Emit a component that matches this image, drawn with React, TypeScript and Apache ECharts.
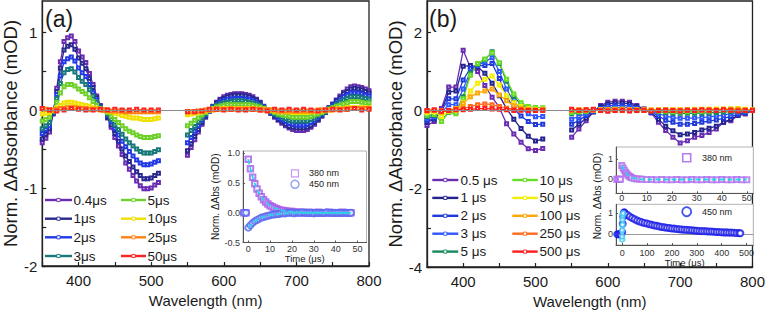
import React, { useEffect, useRef } from "react";
import * as echarts from "echarts";

const FONT = '"Liberation Sans", Arial, Helvetica, sans-serif';
const INK = "#1a1a1a";

// ---- wavelength grids (nm) ----
const WL_5_LO = [350,355,360,365,370,375,380,385,390,395,400,405,410,415,420,425,430,435,440,445,450,455,460,465,470,475,480,485,490,495,500,505,510];
const WL_5_HI = [550,555,560,565,570,575,580,585,590,595,600,605,610,615,620,625,630,635,640,645,650,655,660,665,670,675,680,685,690,695,700,705,710,715,720,725,730,735,740,745,750,755,760,765,770,775,780,785,790,795,800];
const WL_10_LO = [350,360,370,380,390,400,410,420,430,440,450,460,470,480,490,500,510];
const WL_10_HI = [550,560,570,580,590,600,610,620,630,640,650,660,670,680,690,700,710,720,730,740,750,760,770,780,790,800];

// ---- panel (a) spectra ----
const A_LABELS = ["0.4\u03bcs", "1\u03bcs", "2\u03bcs", "3\u03bcs", "5\u03bcs", "10\u03bcs", "25\u03bcs", "50\u03bcs"];
const A_COLORS = ["#6a2db2", "#28288e", "#2338e6", "#17797a", "#6fd02a", "#f0e000", "#ff8012", "#ff2222"];

const A04_LO = [-0.42,-0.36,-0.28,-0.05,0.28,0.62,0.88,0.93,0.95,0.88,0.76,0.68,0.61,0.47,0.33,0.18,0.06,0.00,-0.10,-0.22,-0.35,-0.46,-0.57,-0.68,-0.76,-0.84,-0.91,-0.97,-1.01,-1.01,-1.00,-0.96,-0.93];
const A1_LO = [-0.37,-0.31,-0.24,-0.04,0.24,0.54,0.77,0.82,0.84,0.78,0.67,0.60,0.53,0.41,0.29,0.16,0.05,0.00,-0.09,-0.19,-0.30,-0.40,-0.50,-0.59,-0.66,-0.73,-0.79,-0.84,-0.88,-0.88,-0.87,-0.84,-0.81];
const A2_LO = [-0.30,-0.25,-0.20,-0.03,0.20,0.44,0.62,0.66,0.68,0.63,0.54,0.48,0.43,0.33,0.23,0.13,0.04,0.00,-0.07,-0.15,-0.24,-0.32,-0.40,-0.47,-0.53,-0.59,-0.64,-0.68,-0.70,-0.70,-0.69,-0.67,-0.65];
const A3_LO = [-0.24,-0.20,-0.16,-0.02,0.15,0.34,0.48,0.52,0.53,0.49,0.42,0.37,0.33,0.26,0.18,0.10,0.03,0.00,-0.05,-0.12,-0.19,-0.25,-0.31,-0.37,-0.42,-0.46,-0.50,-0.53,-0.55,-0.55,-0.55,-0.53,-0.51];
const A5_LO = [-0.14,-0.12,-0.09,-0.01,0.10,0.22,0.30,0.33,0.33,0.31,0.27,0.24,0.21,0.16,0.11,0.06,0.02,0.00,-0.03,-0.08,-0.12,-0.16,-0.20,-0.24,-0.27,-0.29,-0.32,-0.34,-0.35,-0.35,-0.35,-0.34,-0.33];
const A10_LO = [-0.05,-0.04,-0.03,0.00,0.03,0.06,0.09,0.10,0.10,0.09,0.08,0.07,0.06,0.05,0.03,0.02,0.01,0.00,-0.01,-0.02,-0.04,-0.05,-0.07,-0.08,-0.09,-0.10,-0.10,-0.11,-0.12,-0.12,-0.12,-0.11,-0.10];
const A25_LO = [0.02,0.01,0.00,0.00,0.01,0.02,0.02,0.03,0.03,0.03,0.02,0.02,0.02,0.01,0.01,0.01,0.00,0.00,0.00,-0.01,-0.01,-0.01,-0.01,-0.02,-0.02,-0.02,-0.02,-0.02,-0.02,-0.02,-0.02,-0.02,-0.02];
const A50_LO = [0.02,0.00,-0.01,0.00,0.02,0.01,0.00,0.00,0.01,0.00,0.01,0.00,0.00,0.01,0.00,0.00,0.00];

const A04_HI = [-0.58,-0.48,-0.38,-0.28,-0.18,-0.09,-0.01,0.05,0.10,0.14,0.17,0.19,0.20,0.21,0.21,0.21,0.20,0.19,0.17,0.14,0.10,0.05,0.00,-0.04,-0.09,-0.13,-0.17,-0.20,-0.23,-0.25,-0.26,-0.26,-0.26,-0.25,-0.22,-0.18,-0.13,-0.08,-0.03,0.03,0.08,0.13,0.18,0.23,0.27,0.30,0.31,0.30,0.29,0.27,0.25];
const A1_HI = [-0.52,-0.43,-0.34,-0.25,-0.16,-0.08,-0.01,0.04,0.09,0.13,0.15,0.17,0.18,0.19,0.19,0.19,0.18,0.17,0.15,0.13,0.09,0.04,0.00,-0.04,-0.08,-0.12,-0.15,-0.18,-0.21,-0.22,-0.23,-0.23,-0.23,-0.22,-0.20,-0.16,-0.12,-0.07,-0.03,0.03,0.07,0.12,0.16,0.21,0.24,0.27,0.28,0.27,0.26,0.24,0.22];
const A2_HI = [-0.42,-0.35,-0.27,-0.20,-0.13,-0.06,-0.01,0.04,0.07,0.10,0.12,0.14,0.14,0.15,0.15,0.15,0.14,0.14,0.12,0.10,0.07,0.04,0.00,-0.03,-0.06,-0.09,-0.12,-0.14,-0.17,-0.18,-0.19,-0.19,-0.19,-0.18,-0.16,-0.13,-0.09,-0.06,-0.02,0.02,0.06,0.09,0.13,0.17,0.19,0.22,0.22,0.22,0.21,0.19,0.18];
const A3_HI = [-0.32,-0.26,-0.21,-0.15,-0.10,-0.05,-0.01,0.03,0.06,0.08,0.09,0.10,0.11,0.12,0.12,0.12,0.11,0.10,0.09,0.08,0.06,0.03,0.00,-0.02,-0.05,-0.07,-0.09,-0.11,-0.13,-0.14,-0.14,-0.14,-0.14,-0.14,-0.12,-0.10,-0.07,-0.04,-0.02,0.02,0.04,0.07,0.10,0.13,0.15,0.17,0.17,0.17,0.16,0.15,0.14];
const A5_HI = [-0.20,-0.17,-0.13,-0.10,-0.06,-0.03,0.00,0.02,0.04,0.05,0.06,0.07,0.07,0.07,0.07,0.07,0.07,0.07,0.06,0.05,0.04,0.02,0.00,-0.01,-0.03,-0.05,-0.06,-0.07,-0.08,-0.09,-0.09,-0.09,-0.09,-0.09,-0.08,-0.06,-0.05,-0.03,-0.01,0.01,0.03,0.05,0.06,0.08,0.09,0.11,0.11,0.11,0.10,0.09,0.09];
const A10_HI = [-0.06,-0.05,-0.04,-0.03,-0.02,-0.01,0.00,0.01,0.01,0.01,0.02,0.02,0.02,0.02,0.02,0.02,0.02,0.02,0.02,0.01,0.01,0.01,0.00,0.00,-0.01,-0.01,-0.02,-0.02,-0.02,-0.03,-0.03,-0.03,-0.03,-0.03,-0.02,-0.02,-0.01,-0.01,0.00,0.00,0.01,0.01,0.02,0.02,0.03,0.03,0.03,0.03,0.03,0.03,0.03];
const A25_HI = [-0.02,-0.02,-0.02,-0.01,-0.01,0.00,0.00,0.00,0.01,0.01,0.01,0.01,0.01,0.01,0.01,0.01,0.01,0.01,0.01,0.01,0.00,0.00,0.00,0.00,0.00,-0.01,-0.01,-0.01,-0.01,-0.01,-0.01,-0.01,-0.01,-0.01,-0.01,-0.01,0.00,0.00,0.00,0.00,0.00,0.01,0.01,0.01,0.01,0.02,0.02,0.02,0.02,0.02,0.02];
const A50_HI = [-0.02,-0.02,-0.01,0.01,0.01,0.00,0.01,0.00,0.00,0.01,0.00,-0.01,0.01,0.00,0.01,0.00,0.01,0.00,-0.01,0.00,0.01,0.00,0.01,0.02,0.00,0.01];

const A_LO = [A04_LO, A1_LO, A2_LO, A3_LO, A5_LO, A10_LO, A25_LO, A50_LO];
const A_HI = [A04_HI, A1_HI, A2_HI, A3_HI, A5_HI, A10_HI, A25_HI, A50_HI];

// ---- panel (b) spectra (10 nm steps) ----
const B_LABELS = ["0.5 \u03bcs", "1 \u03bcs", "2 \u03bcs", "3 \u03bcs", "5 \u03bcs", "10 \u03bcs", "50 \u03bcs", "100 \u03bcs", "250 \u03bcs", "500 \u03bcs"];
const B_COLORS = ["#6a2db2", "#23238e", "#1f3ad8", "#2f56ff", "#178a5c", "#66dc22", "#f4ef00", "#ffa60a", "#ff6a1c", "#ff1c1c"];

const B05_LO = [-0.38,-0.28,0.05,0.60,0.60,1.54,1.10,1.00,0.64,0.34,0.08,-0.34,-0.60,-0.81,-0.98,-1.02,-0.97];
const B1_LO = [-0.30,-0.22,0.00,0.47,0.50,1.13,1.15,1.12,0.95,0.70,0.38,0.05,-0.22,-0.46,-0.66,-0.78,-0.73];
const B2_LO = [-0.25,-0.20,0.00,0.30,0.30,0.78,1.08,1.15,1.15,1.20,0.82,0.36,0.05,-0.14,-0.28,-0.36,-0.35];
const B3_LO = [-0.20,-0.15,-0.05,0.15,0.15,0.55,1.00,1.15,1.25,1.35,1.00,0.55,0.22,0.05,-0.08,-0.16,-0.15];
const B5_LO = [-0.15,-0.12,-0.25,-0.05,-0.05,0.35,0.95,1.18,1.30,1.50,1.20,0.75,0.36,0.15,0.06,0.03,0.02];
const B10_LO = [-0.12,-0.10,-0.28,-0.04,-0.08,0.30,0.90,1.20,1.32,1.48,1.22,0.80,0.42,0.20,0.10,0.08,0.07];
const B50_LO = [-0.05,-0.03,-0.15,-0.02,0.00,0.20,0.50,0.70,0.80,0.88,0.65,0.38,0.20,0.10,0.05,0.03,0.03];
const B100_LO = [-0.02,0.00,-0.05,0.00,0.05,0.18,0.35,0.45,0.50,0.55,0.40,0.25,0.12,0.06,0.03,0.02,0.02];
const B250_LO = [0.00,0.00,0.00,0.00,0.02,0.05,0.10,0.15,0.17,0.15,0.10,0.06,0.03,0.02,0.01,0.00,0.00];
const B500_LO = [0.00,0.02,-0.02,0.00,0.02,0.02,0.03,0.05,0.05,0.04,0.03,0.02,0.00,0.01,0.00,0.00,0.01];

const B05_HI = [-0.68,-0.47,-0.26,-0.04,0.13,0.21,0.24,0.24,0.21,0.13,0.04,-0.06,-0.30,-0.51,-0.68,-0.83,-0.77,-0.68,-0.64,-0.56,-0.47,-0.30,-0.26,-0.13,-0.09,0.00];
const B1_HI = [-0.50,-0.35,-0.20,-0.03,0.10,0.17,0.19,0.19,0.17,0.10,0.03,-0.05,-0.22,-0.40,-0.52,-0.62,-0.60,-0.56,-0.50,-0.45,-0.40,-0.30,-0.22,-0.12,-0.06,0.00];
const B2_HI = [-0.35,-0.25,-0.13,-0.02,0.06,0.12,0.13,0.13,0.11,0.07,0.02,-0.04,-0.14,-0.25,-0.30,-0.35,-0.35,-0.33,-0.30,-0.27,-0.24,-0.20,-0.15,-0.10,-0.05,0.00];
const B3_HI = [-0.22,-0.15,-0.08,-0.01,0.03,0.06,0.08,0.08,0.07,0.04,0.01,-0.03,-0.08,-0.14,-0.18,-0.20,-0.20,-0.19,-0.18,-0.16,-0.14,-0.12,-0.08,-0.05,-0.03,0.00];
const B5_HI = [-0.08,-0.05,-0.03,0.00,0.01,0.02,0.03,0.03,0.02,0.01,0.00,-0.01,-0.03,-0.05,-0.06,-0.07,-0.07,-0.07,-0.06,-0.06,-0.05,-0.04,-0.03,-0.02,-0.01,0.00];
const B10_HI = [-0.05,-0.03,-0.02,0.00,0.01,0.02,0.02,0.02,0.02,0.01,0.00,0.00,-0.01,-0.02,-0.03,-0.03,-0.03,-0.02,-0.02,-0.01,0.00,0.02,0.03,0.04,0.02,0.01];
const B50_HI = [0.02,0.02,0.02,0.02,0.02,0.02,0.03,0.03,0.02,0.02,0.02,0.02,0.02,0.02,0.02,0.02,0.02,0.03,0.03,0.03,0.04,0.04,0.04,0.05,0.03,0.02];
const B100_HI = [0.01,0.02,0.01,0.02,0.02,0.02,0.02,0.02,0.02,0.01,0.02,0.01,0.02,0.02,0.01,0.02,0.02,0.02,0.02,0.03,0.02,0.03,0.03,0.03,0.02,0.01];
const B250_HI = [0.01,0.00,0.01,0.01,0.00,0.01,0.01,0.00,0.01,0.01,0.00,0.01,0.00,0.01,0.01,0.00,0.01,0.01,0.00,0.01,0.01,0.02,0.01,0.01,0.01,0.00];
const B500_HI = [0.03,0.01,0.02,0.03,0.00,-0.02,0.00,0.01,-0.01,0.00,0.01,-0.02,0.00,0.01,0.00,-0.01,0.01,0.00,0.02,0.01,0.00,0.02,0.01,-0.01,0.00,0.01];

const B_LO = [B05_LO, B1_LO, B2_LO, B3_LO, B5_LO, B10_LO, B50_LO, B100_LO, B250_LO, B500_LO];
const B_HI = [B05_HI, B1_HI, B2_HI, B3_HI, B5_HI, B10_HI, B50_HI, B100_HI, B250_HI, B500_HI];

// ---- axis ticks ----
const WL_TICKS = [350,400,450,500,550,600,650,700,750,800];
const WL_LABELS = [400,500,600,700,800];
const A_Y_TICKS = [-2,-1.5,-1,-0.5,0,0.5,1];
const A_Y_LABELS = [-2,-1,0,1];
const B_Y_TICKS = [-4,-3,-2,-1,0,1,2];
const B_Y_LABELS = [-4,-2,0,2];

// ---- inset (a): kinetics at 380 / 450 nm ----
const IA_T = [-2,-1,0,1,2,3,4,5,6,7,8,9,10,11,12,13,14,15,16,17,18,19,20,21,22,23,24,25,26,27,28,29,30,31,32,33,34,35,36,37,38,39,40,41,42,43,44,45,46,47];
const IA_380 = [0,0,0.90,0.74,0.60,0.49,0.40,0.33,0.27,0.22,0.18,0.15,0.12,0.10,0.08,0.07,0.05,0.04,0.04,0.03,0.02,0.02,0.02,0.01,0.01,0.01,0.00,0.01,0.00,0.00,0.01,0.00,0.00,0.00,0.01,0.00,0.00,0.00,0.00,0.01,0.00,0.00,0.00,0.00,0.00,0.01,0.00,0.00,0.00,0.00];
const IA_450 = [0,0,-0.25,-0.21,-0.17,-0.14,-0.12,-0.10,-0.08,-0.07,-0.06,-0.05,-0.04,-0.03,-0.03,-0.02,-0.02,-0.01,-0.01,-0.01,0.00,0.00,0.00,-0.01,0.00,0.00,0.00,0.01,0.00,0.00,0.00,0.00,-0.01,0.00,0.00,0.00,0.00,0.00,0.01,0.00,0.00,0.00,0.00,0.00,0.00,0.00,0.00,0.00,0.00,0.00];
const IA_FIT_T = [0,1,2,3,4,5,6,7,8,9,10,12,14,16,18,20,25,30,35,40,45,47];
const IA_FIT_380 = [0.90,0.74,0.60,0.49,0.40,0.33,0.27,0.22,0.18,0.15,0.12,0.08,0.055,0.037,0.025,0.017,0.005,0,0,0,0,0];
const IA_FIT_450 = [-0.25,-0.21,-0.17,-0.14,-0.12,-0.10,-0.08,-0.07,-0.06,-0.05,-0.04,-0.03,-0.02,-0.015,-0.01,-0.007,-0.002,0,0,0,0,0];
const IA_X_TICKS = [0,10,20,30,40,50];
const IA_Y_TICKS = [-0.5,0,0.5,1];

// ---- inset (b): 380 nm (0-50 us) and 450 nm (0-500 us) ----
const IBT_T = [-2,-1.5,-1,-0.5,0,0.5,1,1.5,2,2.5,3,3.5,4,5,6,7,8,10,12,14,16,18,20,22,24,26,28,30,32,34,36,38,40,42,44,46,48,50];
const IBT_380 = [0,0,0,0,0.68,0.55,0.45,0.35,0.27,0.20,0.15,0.11,0.08,0.04,0.02,0.01,0.00,-0.01,-0.01,-0.02,-0.01,-0.02,-0.02,-0.01,-0.02,-0.02,-0.01,-0.02,-0.02,-0.01,-0.02,-0.02,-0.01,-0.02,-0.02,-0.01,-0.02,-0.02];
const IBT_FIT_T = [0,0.5,1,1.5,2,3,4,5,6,8,10,20,30,40,50];
const IBT_FIT_380 = [0.68,0.55,0.44,0.35,0.27,0.16,0.09,0.05,0.02,0.00,-0.01,-0.01,-0.01,-0.01,-0.01];
const IBB_T = [-20,-15,-10,-5,0,2,4,6,8,10,20,30,40,50,60,70,80,90,100,110,120,130,140,150,160,170,180,190,200,210,220,230,240,250,260,270,280,290,300,310,320,330,340,350,360,370,380,390,400,410,420,430,440,450,460,470,475];
const IBB_450 = [0,0,0,0,0.10,0.50,0.85,1.00,1.05,1.02,0.93,0.85,0.78,0.72,0.66,0.61,0.57,0.54,0.51,0.48,0.45,0.42,0.40,0.37,0.35,0.33,0.31,0.30,0.28,0.27,0.25,0.24,0.23,0.22,0.21,0.20,0.19,0.18,0.17,0.16,0.15,0.15,0.14,0.13,0.13,0.12,0.11,0.11,0.10,0.09,0.09,0.08,0.08,0.07,0.06,0.06,0.05];
const IBB_EARLY_T = [0,0,0,1,1,2,3];
const IBB_EARLY = [-0.25,-0.10,0.20,0.45,0.70,0.90,1.00];
const IBT_X_TICKS = [0,10,20,30,40,50];
const IBB_X_TICKS = [0,100,200,300,400,500];
const IB_Y_TICKS = [0,1];

const pairs = (xs: number[], ys: number[]) => ys.map((y, i) => [xs[i], y]);

function spectrum(lo: number[], hi: number[]) {
  const xLo = lo.length === WL_10_LO.length ? WL_10_LO : WL_5_LO;
  const xHi = hi.length === WL_10_HI.length ? WL_10_HI : WL_5_HI;
  return [...pairs(xLo, lo), [530, "-"], ...pairs(xHi, hi)];
}

const zeroLine = (color: string) => ({
  silent: true,
  symbol: ["none", "none"],
  label: { show: false },
  lineStyle: { color, width: 1.2, type: "solid" },
  data: [{ yAxis: 0 }],
});

function mainSeries(labels: string[], colors: string[], lo: number[][], hi: number[][], axis: number) {
  return labels.map((name, i) => ({
    name,
    type: "line",
    xAxisIndex: axis,
    yAxisIndex: axis,
    data: spectrum(lo[i], hi[i]),
    symbol: "emptyRect",
    symbolSize: 3,
    showSymbol: true,
    showAllSymbol: true,
    lineStyle: { color: colors[i], width: 1.3 },
    itemStyle: { color: colors[i], borderWidth: 0.75 },
    emphasis: { disabled: true },
    z: 2,
    ...(i === 0 ? { markLine: zeroLine("#8c8c8c") } : {}),
  }));
}

function mainX(gridIndex: number) {
  return {
    gridIndex,
    type: "value",
    min: 350,
    max: 800,
    axisLine: { onZero: false, lineStyle: { color: "#222", width: 1.3 } },
    axisTick: { inside: true, length: 4, customValues: WL_TICKS, lineStyle: { color: "#222", width: 1.2 } },
    axisLabel: { customValues: WL_LABELS, fontSize: 15, color: INK, fontFamily: FONT, margin: 7 },
    splitLine: { show: false },
    name: "Wavelength (nm)",
    nameLocation: "middle",
    nameGap: 27,
    nameTextStyle: { fontSize: 15, color: INK, fontFamily: FONT },
  };
}

function mainY(gridIndex: number, min: number, max: number, ticks: number[], labels: number[]) {
  return {
    gridIndex,
    type: "value",
    min,
    max,
    axisLine: { onZero: false, lineStyle: { color: "#222", width: 1.3 } },
    axisTick: { inside: true, length: 4, customValues: ticks, lineStyle: { color: "#222", width: 1.2 } },
    axisLabel: { customValues: labels, fontSize: 15, color: INK, fontFamily: FONT, margin: 5 },
    splitLine: { show: false },
    name: "Norm. \u0394Absorbance (mOD)",
    nameLocation: "middle",
    nameGap: 18,
    nameTextStyle: { fontSize: 18.5, color: INK, fontFamily: FONT },
  };
}

function insetX(gridIndex: number, min: number, max: number, ticks: number[], margin: number, name?: string) {
  return {
    gridIndex,
    type: "value",
    min,
    max,
    z: 6,
    axisLine: { onZero: false, lineStyle: { color: "#555", width: 1 } },
    axisTick: { inside: true, length: 2, customValues: ticks, lineStyle: { color: "#555" } },
    axisLabel: { customValues: ticks, fontSize: 9, color: "#333", fontFamily: FONT, margin },
    splitLine: { show: false },
    ...(name
      ? { name, nameLocation: "middle", nameGap: 9, nameTextStyle: { fontSize: 9.5, color: INK, fontFamily: FONT } }
      : {}),
  };
}

function insetY(gridIndex: number, min: number, max: number, ticks: number[], fmt: (v: number) => string, name?: string) {
  return {
    gridIndex,
    type: "value",
    min,
    max,
    z: 6,
    axisLine: { onZero: false, lineStyle: { color: "#555", width: 1 } },
    axisTick: { inside: true, length: 2, customValues: ticks, lineStyle: { color: "#555" } },
    axisLabel: { customValues: ticks, fontSize: 9, color: "#333", fontFamily: FONT, margin: 3, formatter: fmt },
    splitLine: { show: false },
    ...(name
      ? { name, nameLocation: "middle", nameGap: 15, nameTextStyle: { fontSize: 10, color: INK, fontFamily: FONT } }
      : {}),
  };
}

function legendGraphics(
  labels: string[],
  colors: string[],
  cols: { x0: number; x1: number; tx: number }[],
  rows: number[]
) {
  const per = rows.length;
  return labels.map((label, i) => {
    const c = cols[Math.floor(i / per)];
    const y = rows[i % per];
    const mid = (c.x0 + c.x1) / 2;
    return {
      type: "group",
      z: 20,
      children: [
        { type: "line", shape: { x1: c.x0, y1: y, x2: c.x1, y2: y }, style: { stroke: colors[i], lineWidth: 2.4 } },
        { type: "rect", shape: { x: mid - 1.6, y: y - 1.6, width: 3.2, height: 3.2 }, style: { fill: "#fff", stroke: colors[i], lineWidth: 0.9 } },
        {
          type: "text",
          x: c.tx,
          y,
          style: { text: label, fontSize: 13.5, fontFamily: FONT, fill: INK, align: "left", verticalAlign: "middle" },
        },
      ],
    };
  });
}

const txt = (text: string, x: number, y: number, size: number, extra: any = {}) => ({
  type: "text",
  x,
  y,
  z: 20,
  ...extra,
  style: { text, fontSize: size, fontFamily: FONT, fill: INK, align: "left", verticalAlign: "middle", ...(extra.style || {}) },
});

export default function App() {
  const ref = useRef<HTMLDivElement>(null);

  useEffect(() => {
    if (!ref.current) return;
    const chart = echarts.init(ref.current, undefined, { renderer: "svg" });

    const gridCommon = { show: true, containLabel: false };
    const insetGrid = { ...gridCommon, borderColor: "#b4b4b4", borderWidth: 1, backgroundColor: "#fff", z: 5 };

    const insetScatter = (x: number, data: number[][], symbol: string, size: number, color: string, z = 7) => ({
      type: "scatter",
      xAxisIndex: x,
      yAxisIndex: x,
      data,
      symbol,
      symbolSize: size,
      itemStyle: { color, borderWidth: 1.1 },
      emphasis: { disabled: true },
      silent: true,
      z,
    });
    const fitLine = (x: number, data: number[][]) => ({
      type: "line",
      xAxisIndex: x,
      yAxisIndex: x,
      data,
      symbol: "none",
      lineStyle: { color: "#28d3ea", width: 1.8, type: [5, 3] },
      emphasis: { disabled: true },
      silent: true,
      z: 8,
    });

    const option: any = {
      animation: false,
      backgroundColor: "#fff",
      grid: [
        { ...gridCommon, left: 41, top: 1, width: 328, height: 265, borderColor: "#222", borderWidth: 1.3 },
        { ...gridCommon, left: 427, top: 1, width: 329, height: 266, borderColor: "#222", borderWidth: 1.3 },
        { ...insetGrid, left: 243, top: 151, width: 123.5, height: 91.5 },
        { ...insetGrid, left: 616, top: 147, width: 137.3, height: 46.3 },
        { ...insetGrid, left: 616, top: 204.3, width: 137.3, height: 40.7 },
      ],
      xAxis: [
        mainX(0),
        mainX(1),
        insetX(2, -2.4, 54.1, IA_X_TICKS, 1.5, "Time (\u03bcs)"),
        insetX(3, -2.3, 52.6, IBT_X_TICKS, 0.5),
        insetX(4, -25, 527, IBB_X_TICKS, 3, "Time (\u03bcs)"),
      ],
      yAxis: [
        mainY(0, -2, 1.4, A_Y_TICKS, A_Y_LABELS),
        mainY(1, -4, 2.8, B_Y_TICKS, B_Y_LABELS),
        insetY(2, -0.5, 1.04, IA_Y_TICKS, (v: number) => v.toFixed(1), "Norm. \u0394Abs (mOD)"),
        insetY(3, -0.69, 1.59, IB_Y_TICKS, (v: number) => String(v)),
        insetY(4, -0.51, 1.43, IB_Y_TICKS, (v: number) => String(v)),
      ],
      series: [
        ...mainSeries(A_LABELS, A_COLORS, A_LO, A_HI, 0),
        ...mainSeries(B_LABELS, B_COLORS, B_LO, B_HI, 1),
        insetScatter(2, pairs(IA_T, IA_380), "emptyRect", 5.5, "#a55ae8"),
        insetScatter(2, pairs(IA_T, IA_450), "emptyCircle", 6, "#5566f0"),
        fitLine(2, pairs(IA_FIT_T, IA_FIT_380)),
        fitLine(2, pairs(IA_FIT_T, IA_FIT_450)),
        insetScatter(3, pairs(IBT_T, IBT_380), "emptyRect", 5, "#b06cee"),
        fitLine(3, pairs(IBT_FIT_T, IBT_FIT_380)),
        {
          ...insetScatter(4, pairs(IBB_T, IBB_450), "emptyCircle", 6, "#1818e6"),
          markLine: zeroLine("#999"),
        },
        insetScatter(4, pairs(IBB_EARLY_T, IBB_EARLY), "emptyCircle", 4.5, "#40c8f0", 9),
      ],
      graphic: [
        txt("(a)", 45, 19, 23),
        txt("(b)", 429, 19, 23),
        ...legendGraphics(
          A_LABELS,
          A_COLORS,
          [
            { x0: 45, x1: 72, tx: 73.5 },
            { x0: 121, x1: 146, tx: 147.5 },
          ],
          [200, 218.7, 237.3, 256]
        ),
        ...legendGraphics(
          B_LABELS,
          B_COLORS,
          [
            { x0: 432.3, x1: 458.3, tx: 460.5 },
            { x0: 512.3, x1: 537.7, tx: 539.5 },
          ],
          [180, 197.9, 215.8, 233.7, 251.6]
        ),
        // inset (a) key
        { type: "rect", z: 20, shape: { x: 291.5, y: 169.8, width: 7, height: 7 }, style: { fill: "none", stroke: "#c79af2", lineWidth: 1.2 } },
        txt("380 nm", 309, 173.3, 9),
        { type: "circle", z: 20, shape: { cx: 295, cy: 184.3, r: 4 }, style: { fill: "none", stroke: "#98a4f4", lineWidth: 1.5 } },
        txt("450 nm", 309, 184.3, 9),
        // inset (b) keys
        { type: "rect", z: 20, shape: { x: 682.7, y: 153.7, width: 8, height: 8 }, style: { fill: "none", stroke: "#b57ef0", lineWidth: 1.6 } },
        txt("380 nm", 702, 157.7, 9),
        { type: "circle", z: 20, shape: { cx: 686.7, cy: 211.7, r: 4.5 }, style: { fill: "none", stroke: "#3f52f0", lineWidth: 1.8 } },
        txt("450 nm", 702, 211.7, 9),
        txt("Norm. \u0394Abs (mOD)", 597, 196, 10, { rotation: Math.PI / 2, style: { align: "center" } }),
      ],
    };

    chart.setOption(option);
    return () => chart.dispose();
  }, []);

  return (
    <div
      ref={ref}
      style={{ position: "fixed", left: 0, top: 0, width: 768, height: 315, background: "#fff" }}
    />
  );
}
